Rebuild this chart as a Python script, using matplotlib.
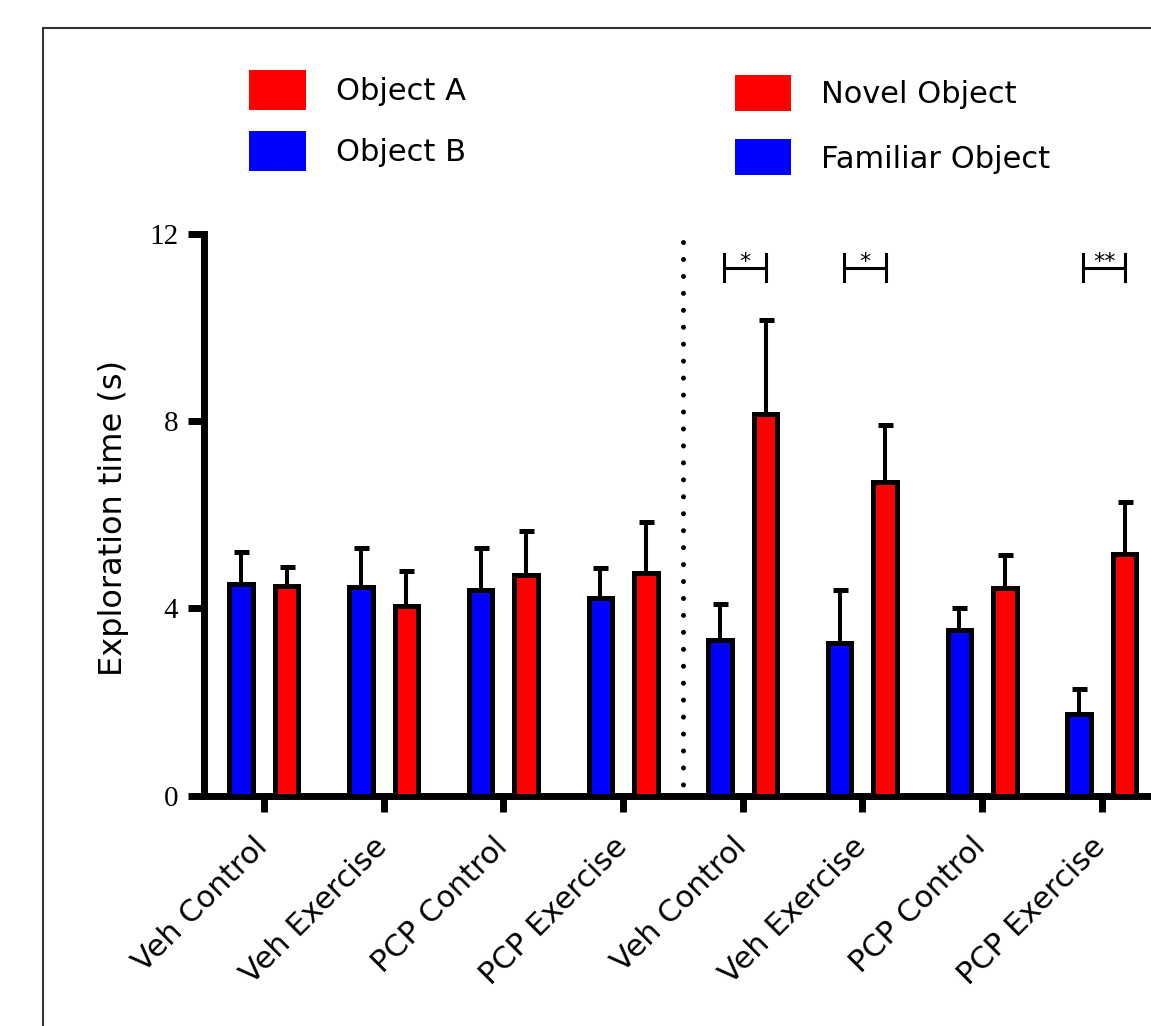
import matplotlib
matplotlib.use('Agg')
from matplotlib import pyplot as plt
from matplotlib.patches import Patch, Rectangle
from matplotlib.transforms import ScaledTranslation
import numpy as np

# data
groups = ['Veh Control', 'Veh Exercise', 'PCP Control', 'PCP Exercise',
          'Veh Control', 'Veh Exercise', 'PCP Control', 'PCP Exercise']
blue_mean = [4.53, 4.45, 4.40, 4.23, 3.33, 3.26, 3.53, 1.75]
blue_sem = [0.67, 0.85, 0.90, 0.63, 0.77, 1.13, 0.47, 0.52]
red_mean = [4.47, 4.06, 4.72, 4.76, 8.15, 6.70, 4.44, 5.17]
red_sem = [0.41, 0.74, 0.93, 1.08, 2.02, 1.21, 0.69, 1.10]
sig_groups = [4, 5, 7]
sig_labels = ['*', '*', '**']
y_ticks = [0, 4, 8, 12]

W, H = 1151, 1026
RED = '#FF0000'
BLUE = '#0000FF'

if __name__ == "__main__":
    plt.rcParams['font.family'] = ['DejaVu Sans']
    fig = plt.figure(figsize=(W / 100, H / 100), dpi=100)
    ax = fig.add_axes([204 / W, 1 - 795.5 / H, (1170 - 204) / W, (795.5 - 234) / H])

    x = np.arange(len(groups))
    off, bw = 0.19, 0.196
    zeros = np.zeros(len(groups))

    ax.bar(x - off, blue_mean, bw, color=BLUE, edgecolor='black', linewidth=3.6, zorder=3)
    ax.bar(x + off, red_mean, bw, color=RED, edgecolor='black', linewidth=3.6, zorder=3)
    ax.errorbar(x - off, blue_mean, yerr=[zeros, blue_sem], fmt='none', ecolor='black',
                elinewidth=2.9, capsize=5.4, capthick=3.6, zorder=2)
    ax.errorbar(x + off, red_mean, yerr=[zeros, red_sem], fmt='none', ecolor='black',
                elinewidth=2.9, capsize=5.4, capthick=3.6, zorder=2)

    # dotted divider between the two phases (drawn top-down so the top dot is fixed)
    ax.plot([3.5, 3.5], [11.82, 0.12], color='black', lw=3.6, dashes=(0.01, 3.38),
            dash_capstyle='round')

    # significance brackets
    for g, lab in zip(sig_groups, sig_labels):
        x0, x1 = g - 0.155, g + 0.195
        ax.plot([x0, x1], [11.27, 11.27], color='black', lw=2.2)
        ax.plot([x0, x0], [11.0, 11.57], color='black', lw=2.2)
        ax.plot([x1, x1], [11.0, 11.57], color='black', lw=2.2)
        ax.text((x0 + x1) / 2, 11.27, lab, ha='center', va='baseline', fontsize=16)

    ax.set_xlim(-0.501, -0.501 + 966 / 119.7)
    ax.set_ylim(0, 12)
    for s in ['top', 'right']:
        ax.spines[s].set_visible(False)
    for s in ['left', 'bottom']:
        ax.spines[s].set_linewidth(5)
    ax.tick_params(axis='both', width=5, length=11.5, direction='out')
    ax.tick_params(axis='x', pad=14)
    ax.tick_params(axis='y', pad=7)
    ax.set_yticks(y_ticks)
    ax.set_yticklabels([str(v) for v in y_ticks], fontfamily='Liberation Serif', fontsize=21)
    ax.set_xticks(x)
    ax.set_xticklabels(groups, rotation=45, ha='right', va='top', rotation_mode='anchor',
                       fontsize=22)

    ax.set_ylabel('Exploration time (s)', fontsize=23)
    ax.yaxis.set_label_coords(-0.0775, 0.495)

    # legends
    fig.legend(handles=[Patch(fc=RED, ec='none'), Patch(fc=BLUE, ec='none')],
               labels=['Object A', 'Object B'], loc='upper left',
               bbox_to_anchor=(249 / W, 1 - 70 / H), frameon=False, fontsize=22,
               handlelength=1.865, handleheight=1.637, labelspacing=0.687,
               handletextpad=0.98, borderpad=0, borderaxespad=0)
    fig.legend(handles=[Patch(fc=RED, ec='none'), Patch(fc=BLUE, ec='none')],
               labels=['Novel Object', 'Familiar Object'], loc='upper left',
               bbox_to_anchor=(735 / W, 1 - 75 / H), frameon=False, fontsize=22,
               handlelength=1.83, handleheight=1.435, labelspacing=0.933,
               handletextpad=1.0, borderpad=0, borderaxespad=0)

    # outer frame, cut by the right and bottom edges
    fig.add_artist(Rectangle((43 / W, -0.5), 2, 1 - 27.7 / H + 0.5, transform=fig.transFigure,
                             fill=False, edgecolor='#333333', linewidth=1.5))

    # nudge the rotated group labels (done last so tick_params does not reset it)
    shift = ScaledTranslation(-11 / 100, -1 / 100, fig.dpi_scale_trans)
    for lab in ax.get_xticklabels():
        lab.set_transform(lab.get_transform() + shift)

    plt.savefig('out.png', dpi=100)
